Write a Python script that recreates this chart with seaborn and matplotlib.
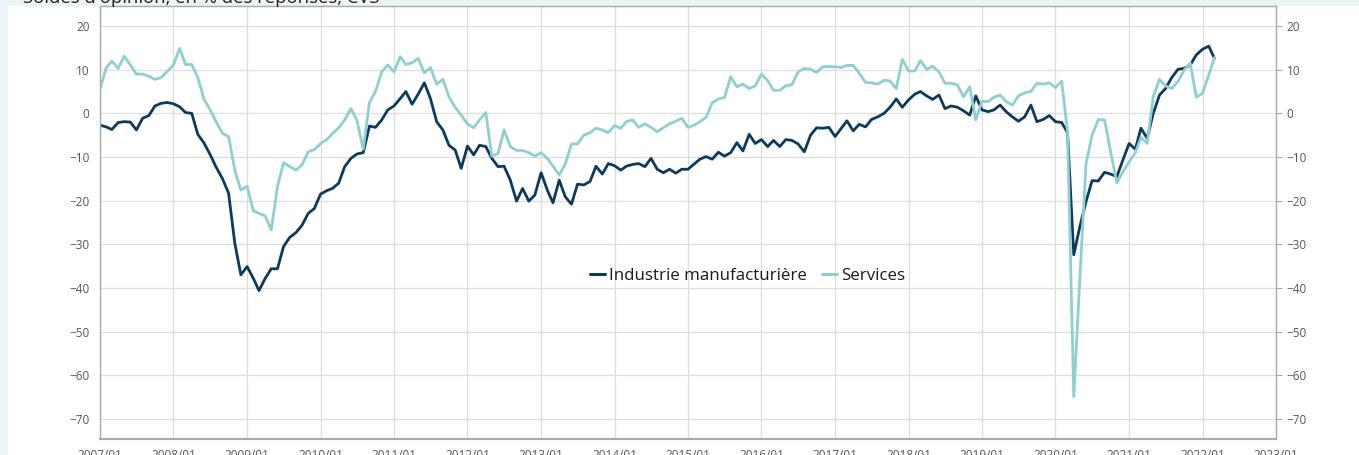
import pandas as pd
import numpy as np
import matplotlib
matplotlib.use("Agg")
import matplotlib.pyplot as plt
import matplotlib.dates as mdates
from matplotlib.patches import Rectangle
import seaborn as sns

# -----------------------------
# DATA (monthly, 2007/01 - 2022/03)
# -----------------------------
months = pd.date_range("2007-01-01", "2022-03-01", freq="MS")

industrie = [
    -2.7, -3.1, -3.7, -2.1, -1.9, -2.0, -3.8, -1.1, -0.5, 1.7, 2.3, 2.5,          # 2007
    2.2, 1.5, 0.2, 0.0, -4.8, -6.8, -9.4, -12.4, -15.0, -18.3, -29.8, -37.0,      # 2008
    -35.1, -37.8, -40.6, -37.8, -35.6, -35.6, -30.5, -28.4, -27.3, -25.6, -22.9, -21.8,  # 2009
    -18.5, -17.7, -17.2, -16.0, -12.2, -10.3, -9.3, -9.0, -2.9, -3.2, -1.5, 0.8,  # 2010
    1.7, 3.4, 5.0, 2.1, 4.4, 7.0, 3.4, -1.9, -3.8, -7.3, -8.4, -12.6,            # 2011
    -7.5, -9.5, -7.3, -7.6, -10.3, -12.2, -12.1, -15.3, -20.1, -17.2, -20.1, -18.7,  # 2012
    -13.6, -17.6, -20.5, -15.3, -19.1, -20.8, -16.2, -16.4, -15.6, -12.1, -13.9, -11.5,  # 2013
    -12.0, -13.0, -12.1, -11.7, -11.5, -12.2, -10.3, -12.8, -13.6, -12.8, -13.7, -12.8,  # 2014
    -12.8, -11.6, -10.5, -9.9, -10.5, -8.9, -9.8, -9.0, -6.7, -8.6, -4.8, -6.9,  # 2015
    -6.0, -7.6, -6.2, -7.6, -6.0, -6.2, -7.0, -8.8, -5.0, -3.3, -3.4, -3.2,      # 2016
    -5.3, -3.4, -1.7, -4.0, -2.5, -3.1, -1.4, -0.8, 0.0, 1.4, 3.3, 1.4,          # 2017
    3.1, 4.4, 5.0, 4.0, 3.2, 4.2, 1.1, 1.7, 1.4, 0.6, -0.4, 4.0,                  # 2018
    0.8, 0.4, 0.8, 1.9, 0.4, -0.8, -1.8, -0.8, 1.9, -1.9, -1.4, -0.5,            # 2019
    -1.9, -2.1, -4.4, -32.4, -26.0, -20.2, -15.4, -15.5, -13.5, -13.9, -14.5, -10.7,  # 2020
    -6.9, -8.2, -3.4, -5.7, 0.0, 4.2, 5.7, 8.2, 10.1, 10.3, 11.1, 13.4,          # 2021
    14.7, 15.4, 12.6,                                                            # 2022
]

services = [
    5.7, 10.4, 12.0, 10.3, 13.1, 11.1, 9.0, 9.0, 8.5, 7.8, 8.2, 9.6,              # 2007
    11.1, 14.9, 11.2, 11.2, 8.2, 3.2, 0.9, -2.0, -4.6, -5.3, -13.0, -17.6,       # 2008
    -16.7, -22.3, -22.9, -23.5, -26.7, -16.8, -11.3, -12.2, -13.0, -11.8, -8.8, -8.3,  # 2009
    -6.9, -6.0, -4.6, -3.3, -1.5, 1.1, -1.6, -8.2, 2.5, 5.0, 9.5, 11.1,          # 2010
    9.5, 13.0, 11.2, 11.6, 12.6, 9.3, 10.5, 6.7, 7.8, 3.8, 1.4, -0.4,            # 2011
    -2.4, -3.3, -1.5, 0.2, -9.8, -9.2, -3.8, -7.6, -8.5, -8.5, -9.0, -9.8,       # 2012
    -9.0, -10.3, -12.1, -14.1, -11.6, -7.0, -7.0, -5.0, -4.4, -3.4, -3.8, -4.4,  # 2013
    -2.8, -3.4, -1.9, -1.5, -3.2, -2.4, -3.2, -4.2, -3.3, -2.4, -1.8, -1.1,      # 2014
    -3.2, -2.7, -1.9, -0.9, 2.4, 3.3, 3.6, 8.4, 6.1, 6.7, 5.7, 6.3,              # 2015
    9.0, 7.5, 5.3, 5.3, 6.3, 6.6, 9.5, 10.3, 10.1, 9.4, 10.7, 10.7,              # 2016
    10.7, 10.5, 11.0, 11.0, 9.2, 7.1, 7.0, 6.7, 7.6, 7.4, 5.7, 12.4,             # 2017
    9.7, 9.7, 12.1, 10.1, 10.8, 9.5, 6.9, 6.9, 6.5, 3.8, 6.1, -1.5,              # 2018
    2.8, 2.7, 3.7, 4.2, 2.7, 1.9, 4.0, 4.7, 5.0, 6.9, 6.7, 7.0,                  # 2019
    5.9, 7.4, -4.2, -64.9, -38.0, -11.5, -5.0, -1.4, -1.5, -8.8, -15.9, -13.4,   # 2020
    -11.1, -9.0, -5.5, -6.9, 3.8, 7.8, 6.3, 5.7, 7.3, 9.9, 11.5, 3.7,            # 2021
    4.6, 8.8, 12.8,                                                              # 2022
]

series_names = ["Industrie manufacturière", "Services"]
colors = ["#0d3a5c", "#8fcfd0"]
y_ticks = [20, 10, 0, -10, -20, -30, -40, -50, -60, -70]
title = "Soldes d'opinion, en % des réponses, CVS"

df = pd.DataFrame({
    "Date": np.concatenate([months, months]),
    "Valeur": industrie + services,
    "Série": [series_names[0]] * len(months) + [series_names[1]] * len(months),
})

# -----------------------------
# PLOT
# -----------------------------
sns.set_style("white")
plt.rcParams["font.family"] = ["Open Sans", "DejaVu Sans"]

fig = plt.figure(figsize=(13.59, 4.55), dpi=100)
fig.patch.set_facecolor("#ebf4f6")
fig.add_artist(Rectangle((8 / 1359, 0), 1, (455 - 6) / 455, transform=fig.transFigure,
                         facecolor="white", edgecolor="none", zorder=-10))
ax = fig.add_axes([100 / 1359, 16 / 455, 1176 / 1359, 433 / 455])
ax.set_facecolor("white")

sns.lineplot(data=df, x="Date", y="Valeur", hue="Série", hue_order=series_names,
             palette=colors, linewidth=2.0, ax=ax, legend=False)

ax.set_xlim(pd.Timestamp("2007-01-01"), pd.Timestamp("2023-01-01"))
ax.set_ylim(-74.6, 24.6)
ax.set_yticks(y_ticks)
ax.xaxis.set_major_locator(mdates.YearLocator())
ax.xaxis.set_major_formatter(mdates.DateFormatter("%Y/%m"))
ax.set_xlabel("")
ax.set_ylabel("")

ax.grid(True, color="#dddddd", linewidth=0.9)
ax.set_axisbelow(True)
for s in ax.spines.values():
    s.set_color("#aaaaaa")
    s.set_linewidth(1.0)
ax.spines["bottom"].set_linewidth(1.5)

ax.tick_params(axis="both", which="major", length=4, width=0.8, color="#aaaaaa",
               labelcolor="#555555", labelsize=8.5, direction="out")
ax.tick_params(axis="y", right=True, labelright=True)

handles = [plt.Line2D([], [], color=c, linewidth=2.2) for c in colors]
leg = ax.legend(handles, series_names, loc="center", bbox_to_anchor=(0.5506, 0.376),
                ncol=2, frameon=False, fontsize=12.2, handlelength=0.9,
                handletextpad=0.2, columnspacing=0.9)
for t in leg.get_texts():
    t.set_color("#1a1a1a")

fig.text(23 / 1359, 1 - 3 / 455, title, fontsize=13.3, color="#222222",
         ha="left", va="baseline")

fig.savefig("out.png", dpi=100, facecolor=fig.get_facecolor())
